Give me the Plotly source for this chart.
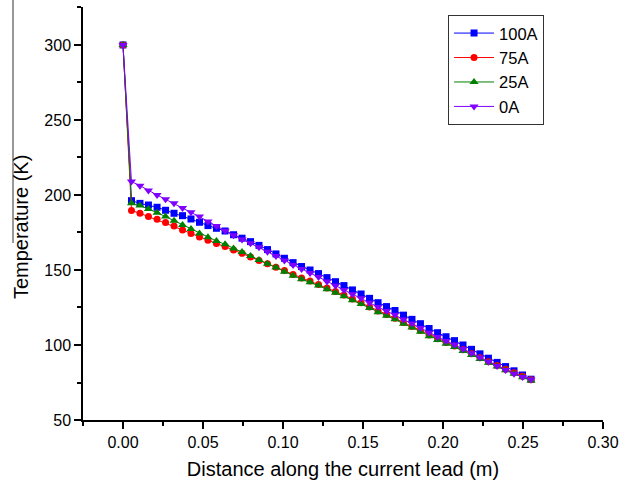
import plotly.graph_objects as go

distance = [0, 0.0053, 0.0106, 0.0159, 0.0213, 0.0266, 0.0319, 0.0372, 0.0425, 0.0478,
            0.0531, 0.0584, 0.0638, 0.0691, 0.0744, 0.0797, 0.0850, 0.0903, 0.0956, 0.1009,
            0.1063, 0.1116, 0.1169, 0.1222, 0.1275, 0.1328, 0.1381, 0.1434, 0.1488, 0.1541,
            0.1594, 0.1647, 0.1700, 0.1753, 0.1806, 0.1859, 0.1913, 0.1966, 0.2019, 0.2072,
            0.2125, 0.2178, 0.2231, 0.2284, 0.2338, 0.2391, 0.2444, 0.2497, 0.2550]

t_100A = [300, 196.2, 194.4, 193.3, 191.8, 189.8, 187.8, 186.2, 184.0, 181.8,
          179.6, 177.8, 176.0, 173.5, 171.2, 168.9, 166.4, 163.6, 160.7, 157.8,
          154.9, 152.3, 150.0, 147.6, 144.9, 142.2, 139.6, 136.7, 134.0, 131.1,
          128.2, 125.6, 123.0, 119.9, 117.1, 114.2, 111.0, 108.2, 105.5, 102.9,
          100.0, 97.1, 94.1, 91.2, 88.4, 85.6, 82.8, 80.0, 77.2]

t_75A = [300, 189.6, 187.8, 185.6, 183.8, 181.6, 179.3, 176.7, 174.4, 172.0,
         169.8, 167.6, 165.6, 163.3, 161.1, 158.7, 156.4, 154.2, 151.8, 149.7,
         147.0, 144.7, 142.6, 140.4, 138.0, 135.6, 133.3, 130.6, 128.1, 125.4,
         122.7, 120.3, 117.9, 115.0, 112.4, 109.7, 106.7, 104.1, 101.7, 99.4,
         96.8, 94.2, 91.5, 88.9, 86.3, 83.9, 81.5, 79.1, 76.8]

t_25A = [300, 194.5, 192.9, 190.7, 188.2, 185.6, 182.9, 180.0, 177.3, 174.4,
         171.8, 169.3, 167.1, 164.4, 162.0, 159.3, 156.7, 154.2, 151.6, 148.9,
         146.2, 143.9, 141.8, 139.6, 137.2, 134.8, 132.5, 129.8, 127.3, 124.6,
         121.9, 119.5, 117.1, 114.2, 111.6, 108.9, 105.9, 103.3, 100.9, 98.6,
         96.0, 93.4, 90.7, 88.1, 85.6, 83.2, 80.8, 78.5, 76.3]

t_0A = [300, 208.9, 206.2, 202.9, 200.0, 197.1, 194.4, 191.3, 188.4, 185.6,
        182.4, 179.3, 176.2, 173.2, 170.4, 167.8, 165.1, 162.2, 159.3, 156.4,
        153.4, 150.6, 148.0, 145.3, 142.4, 139.5, 136.7, 133.8, 131.1, 128.2,
        125.3, 122.7, 120.1, 117.0, 114.3, 111.4, 108.2, 105.3, 102.6, 100.1,
        97.3, 94.5, 91.6, 88.8, 86.0, 83.4, 80.8, 78.7, 77.0]

series_names = ["100A", "75A", "25A", "0A"]
series_values = [t_100A, t_75A, t_25A, t_0A]
series_colors = ["#0000FF", "#FF0000", "#008000", "#8000FF"]
series_symbols = ["square", "circle", "triangle-up", "triangle-down"]
series_sizes = [7, 7, 8, 8]

FONT = "Liberation Sans, Arial, sans-serif"

fig = go.Figure()
for name, vals, col, sym, sz in zip(series_names, series_values, series_colors,
                                    series_symbols, series_sizes):
    fig.add_trace(go.Scatter(
        x=distance, y=vals, name=name, mode="lines+markers",
        line=dict(color=col, width=1),
        marker=dict(symbol=sym, size=sz, color=col, line=dict(width=0)),
    ))

fig.update_layout(
    width=632, height=485,
    margin=dict(l=83, r=29, t=7, b=65),
    paper_bgcolor="white", plot_bgcolor="white",
    font=dict(family=FONT, color="black"),
    showlegend=True,
    legend=dict(
        x=0.702, y=0.981, xanchor="left", yanchor="top",
        bgcolor="white", bordercolor="#333333", borderwidth=1,
        font=dict(size=16.5, family=FONT), itemwidth=40,
        tracegroupgap=0,
    ),
    annotations=[dict(
        text="Temperature (K)", textangle=-90,
        xref="paper", yref="paper", x=-0.119, y=(420 - 227) / 413,
        xanchor="center", yanchor="middle", showarrow=False,
        font=dict(size=20, family=FONT),
    )],
    shapes=[dict(
        type="line", xref="paper", yref="paper",
        x0=-0.1346, x1=-0.1346, y0=1.02, y1=0.4286,
        line=dict(color="#333333", width=1),
    )],
)

fig.update_xaxes(
    range=[-0.025, 0.30], tickmode="linear", tick0=0, dtick=0.05, tickformat=".2f",
    showline=True, linecolor="black", linewidth=1.5, mirror=False,
    ticks="outside", ticklen=7, tickwidth=1.5, tickcolor="black",
    minor=dict(ticks="outside", ticklen=4, tickwidth=1.5, tickcolor="black",
               dtick=0.025, tick0=0, showgrid=False),
    showgrid=False, zeroline=False,
    tickfont=dict(size=16, family=FONT),
    title=dict(text="Distance along the current lead (m)", font=dict(size=20, family=FONT),
               standoff=12),
)
fig.update_yaxes(
    range=[50, 325.3], tickmode="linear", tick0=50, dtick=50,
    showline=True, linecolor="black", linewidth=1.5, mirror=False,
    ticks="outside", ticklen=7, tickwidth=1.5, tickcolor="black",
    minor=dict(ticks="outside", ticklen=4, tickwidth=1.5, tickcolor="black",
               dtick=25, tick0=50, showgrid=False),
    showgrid=False, zeroline=False,
    tickfont=dict(size=16, family=FONT),
)

fig.write_html(
    "out.html",
    config={"displayModeBar": False},
    post_script="document.body.style.margin='0px';document.body.style.padding='0px';",
)
